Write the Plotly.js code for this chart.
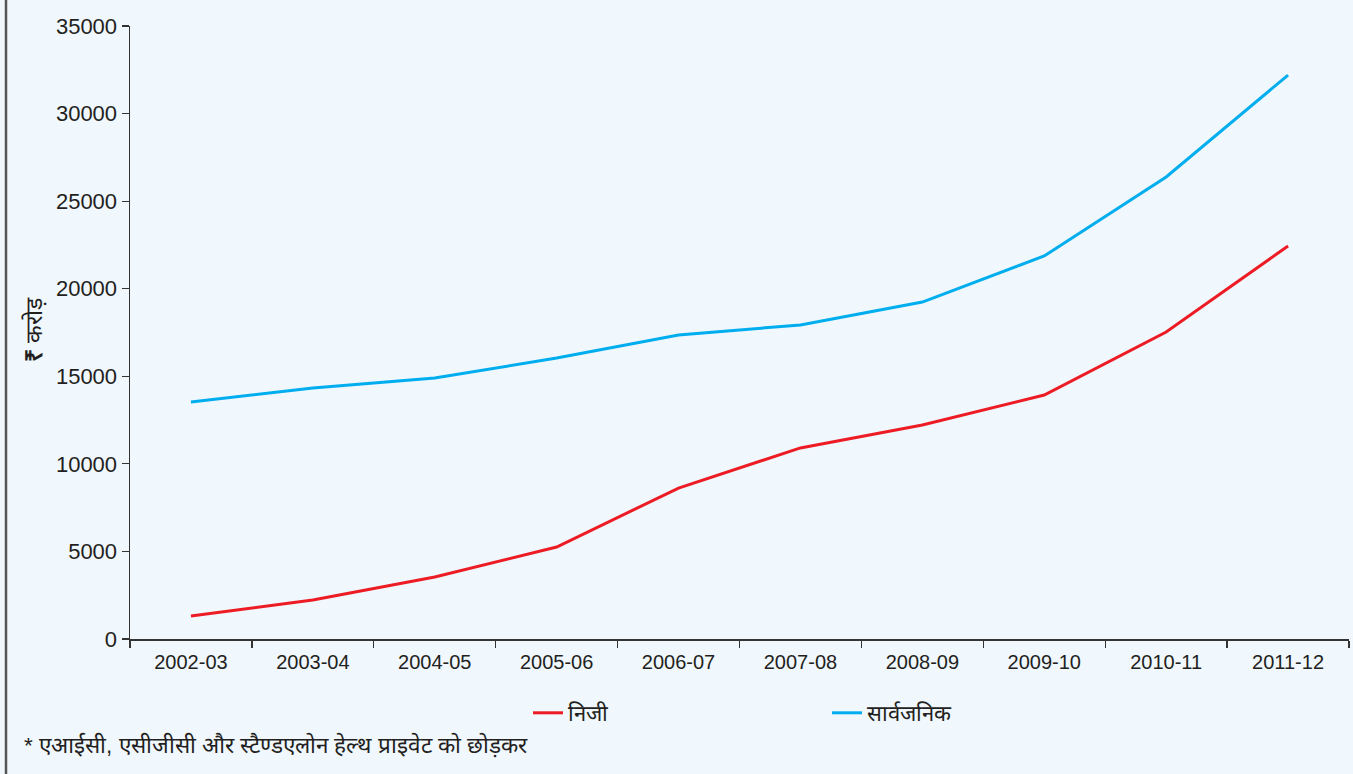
<!DOCTYPE html>
<html>
<head>
<meta charset="utf-8">
<script src="https://cdn.plot.ly/plotly-3.0.1.min.js"></script>
<style>
html,body{margin:0;padding:0;background:#f0f7fd;}
#chart{width:1353px;height:774px;}
</style>
</head>
<body>
<div id="chart"></div>
<script>
const years = ["2002-03","2003-04","2004-05","2005-06","2006-07","2007-08","2008-09","2009-10","2010-11","2011-12"];
const privateVals = [1310, 2230, 3540, 5250, 8620, 10910, 12220, 13930, 17530, 22440];
const publicVals = [13530, 14330, 14900, 16040, 17360, 17930, 19240, 21870, 26380, 32200];
const privateName = "निजी";
const publicName = "सार्वजनिक";
const yTitle = "<b>₹</b> करोड़";
const footnote = "* एआईसी, एसीजीसी और स्टैण्डएलोन हेल्थ प्राइवेट को छोड़कर";

const L = 130, R = 1349, T = 26, B = 639;
const W = R - L, H = B - T;
const px = x => (x - L) / W;
const py = y => (B - y) / H;

const traces = [
  {x: years, y: privateVals, name: privateName, type: "scatter", mode: "lines",
   line: {color: "#ed1c24", width: 3}},
  {x: years, y: publicVals, name: publicName, type: "scatter", mode: "lines",
   line: {color: "#00aeef", width: 3}}
];

const layout = {
  width: 1353, height: 774,
  paper_bgcolor: "#f0f7fd", plot_bgcolor: "#f0f7fd",
  margin: {l: L, r: 1353 - R, t: T, b: 774 - B},
  showlegend: true,
  font: {family: "Liberation Sans, Arial, sans-serif", color: "#231f20"},
  xaxis: {
    type: "category", range: [-0.5, 9.5], tickson: "boundaries",
    ticks: "outside", ticklen: 7, tickcolor: "#333", tickwidth: 1.2,
    ticklabelstandoff: 4,
    showline: true, linecolor: "#333", linewidth: 1.5,
    showgrid: false, zeroline: false,
    tickfont: {size: 20, color: "#231f20"}
  },
  yaxis: {
    range: [0, 35000], dtick: 5000, tick0: 0, tickformat: "d",
    ticks: "outside", ticklen: 7, tickcolor: "#333", tickwidth: 1.2,
    showline: true, linecolor: "#333", linewidth: 1.5,
    showgrid: false, zeroline: false,
    tickfont: {size: 22, color: "#231f20"}
  },
  legend: {
    orientation: "h", x: px(528), y: py(713), yanchor: "middle", xanchor: "left",
    entrywidth: 254, entrywidthmode: "pixels",
    bgcolor: "rgba(0,0,0,0)",
    font: {size: 22, color: "#231f20"}
  },
  annotations: [
    {text: yTitle, xref: "paper", yref: "paper", x: px(34), y: py(330),
     textangle: -90, showarrow: false, xanchor: "center", yanchor: "middle",
     font: {size: 23, color: "#231f20"}},
    {text: footnote, xref: "paper", yref: "paper", x: px(22), y: py(745),
     showarrow: false, xanchor: "left", yanchor: "middle",
     font: {size: 22.5, color: "#231f20"}}
  ],
  shapes: [
    {type: "line", xref: "paper", yref: "paper", x0: px(6), x1: px(6), y0: py(-5), y1: py(780),
     line: {color: "#555", width: 2.5}}
  ]
};

Plotly.newPlot("chart", traces, layout, {displayModeBar: false, staticPlot: true});
</script>
</body>
</html>
